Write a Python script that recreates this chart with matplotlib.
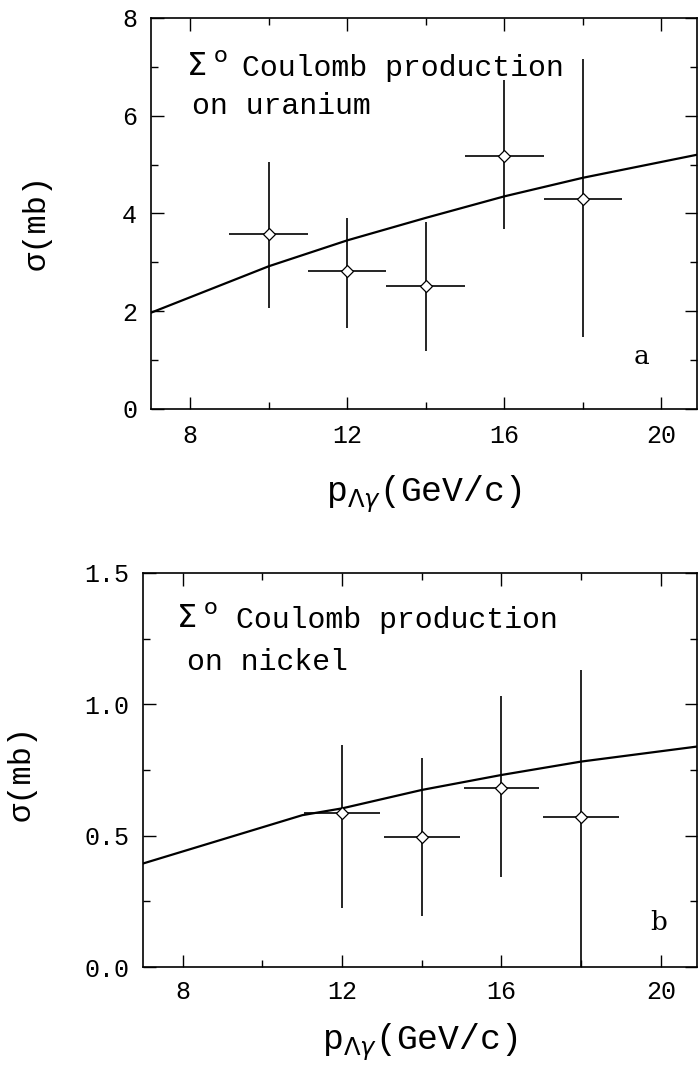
import numpy as np
import matplotlib
matplotlib.use("Agg")
import matplotlib.pyplot as plt

matplotlib.rc('font', family=['Liberation Mono', 'DejaVu Sans Mono'])
matplotlib.rc('mathtext', fontset='dejavusans')

# panel a: uranium
p_u = [10, 12, 14, 16, 18]
sig_u = [3.57, 2.82, 2.51, 5.17, 4.29]
err_u_lo = [1.50, 1.16, 1.33, 1.48, 2.81]
err_u_hi = [1.49, 1.09, 1.31, 1.56, 2.87]
dp_u = [1, 1, 1, 1, 1]
curve_u_p = [7, 10, 12, 14, 16, 18, 20.9]
curve_u = [1.97, 2.92, 3.45, 3.91, 4.35, 4.73, 5.20]

# panel b: nickel
p_ni = [12, 14, 16, 18]
sig_ni = [0.585, 0.496, 0.683, 0.572]
err_ni_lo = [0.36, 0.30, 0.34, 0.60]
err_ni_hi = [0.26, 0.30, 0.35, 0.56]
dp_ni = [0.95, 0.95, 0.95, 0.95]
curve_ni_p = [7, 11, 12, 14, 16, 18, 20.9]
curve_ni = [0.394, 0.578, 0.604, 0.674, 0.731, 0.782, 0.839]

fig = plt.figure(figsize=(6.98, 10.76), dpi=100)


def style(ax, ymaj, ymin, ylabels, ypad, xpad):
    ax.set_xlim(7, 20.9)
    ax.set_xticks([8, 12, 16, 20])
    ax.set_xticks([10, 14, 18], minor=True)
    ax.set_yticks(ymaj)
    ax.set_yticklabels(ylabels)
    ax.set_yticks(ymin, minor=True)
    ax.tick_params(which='both', direction='in', top=True, right=True,
                   labelsize=18, width=1.0)
    ax.tick_params(which='major', length=9)
    ax.tick_params(which='minor', length=5)
    ax.tick_params(axis='y', pad=ypad)
    ax.tick_params(axis='x', pad=xpad)
    for s in ax.spines.values():
        s.set_linewidth(1.2)


def draw(ax, p, s, lo, hi, dp, cp, c):
    ax.plot(cp, c, color='black', lw=1.6)
    ax.errorbar(p, s, yerr=[lo, hi], xerr=dp, fmt='D', ms=6,
                mfc='white', mec='black', mew=0.9, ecolor='black',
                elinewidth=1.2, capsize=0)


sigma0 = r"$\Sigma^{\ \rm o}$"
title = "Coulomb production"
xlab = r"p$_{\Lambda\gamma}$(GeV/c)"

# ---- top panel
ax = fig.add_axes([0.2163, 0.6199, 0.998 - 0.2163, 0.9833 - 0.6199])
draw(ax, p_u, sig_u, err_u_lo, err_u_hi, dp_u, curve_u_p, curve_u)
ax.set_ylim(0, 8)
style(ax, [0, 2, 4, 6, 8], [1, 3, 5, 7], ['0', '2', '4', '6', '8'], 10, 11)
ax.text(7.89, 6.82, sigma0, fontsize=23, va='baseline')
ax.text(9.33, 6.82, title, fontsize=21.5, va='baseline')
ax.text(8.05, 6.04, "on uranium", fontsize=21.5, va='baseline')
ax.text(19.5, 1.07, "a", family='DejaVu Serif', fontsize=19, va='center', ha='center')
ax.text(0.5, -0.237, xlab, transform=ax.transAxes,
        fontsize=25, ha='center', va='baseline')
ax.text(-0.21, 0.479, "σ(mb)", transform=ax.transAxes, rotation=90,
        fontsize=23, ha='center', va='center')

# ---- bottom panel
ax = fig.add_axes([0.2049, 0.1013, 0.998 - 0.2049, 0.4675 - 0.1013])
draw(ax, p_ni, sig_ni, err_ni_lo, err_ni_hi, dp_ni, curve_ni_p, curve_ni)
ax.set_ylim(0, 1.5)
style(ax, [0, 0.5, 1.0, 1.5], [0.25, 0.75, 1.25], ['0.0', '0.5', '1.0', '1.5'], 10, 9)
ax.text(7.84, 1.29, sigma0, fontsize=23, va='baseline')
ax.text(9.33, 1.29, title, fontsize=21.5, va='baseline')
ax.text(8.1, 1.13, "on nickel", fontsize=21.5, va='baseline')
ax.text(19.94, 0.171, "b", family='DejaVu Serif', fontsize=19, va='center', ha='center')
ax.text(0.5, -0.211, xlab, transform=ax.transAxes,
        fontsize=25, ha='center', va='baseline')
ax.text(-0.22, 0.492, "σ(mb)", transform=ax.transAxes, rotation=90,
        fontsize=23, ha='center', va='center')

plt.savefig("out.png", dpi=100)
